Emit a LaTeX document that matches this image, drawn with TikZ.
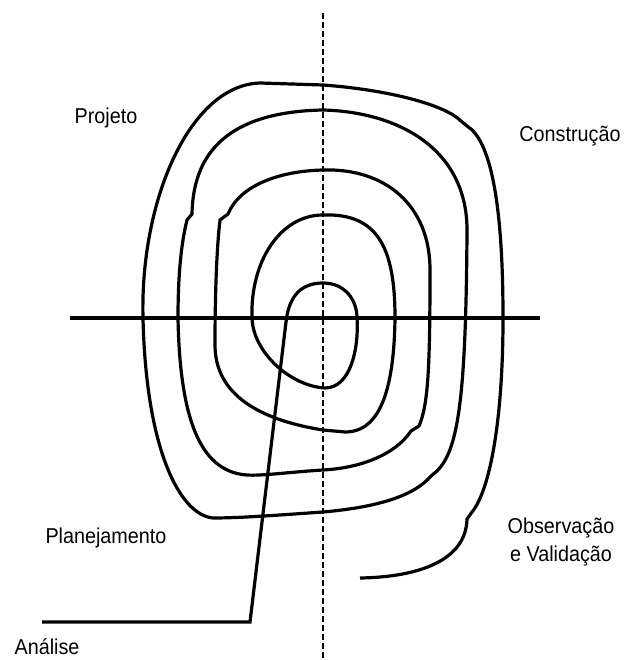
\documentclass[tikz,border=0pt]{standalone}
\usepackage{fontspec}
\setmainfont{Liberation Sans}[FakeStretch=0.92]
\begin{document}
\begin{tikzpicture}[x=1pt,y=-1pt,
  spiral/.style={line width=3.2pt},
  axisline/.style={line width=3.2pt},
  midline/.style={line width=1.7pt, dash pattern=on 6pt off 3pt},
  lbl/.style={anchor=base, inner sep=0pt, font=\fontsize{21.5}{26}\selectfont}]
\useasboundingbox (0,0) rectangle (624,660);
% axes
\coordinate (vtop) at (323,13);
\coordinate (vbot) at (323,660);
\coordinate (hl) at (70,318);
\coordinate (hr) at (540,318);
\draw[midline] (vtop) -- (vbot);
\draw[axisline] (hl) -- (hr);
% spiral
\draw[spiral] (42,622) -- (250,622) -- (286,322)
 .. controls (289,295) and (302,283) .. (323,283)
 .. controls (345,283) and (357,300) .. (357,318)
 .. controls (359,350) and (350,388) .. (325,388)
 .. controls (290,386) and (253,352) .. (252,318)
 .. controls (250,262) and (280,215) .. (323,215)
 .. controls (378,213) and (395,248) .. (395,318)
 .. controls (394,390) and (380,432) .. (345,432)
 -- (323,430)
 .. controls (260,420) and (215,395) .. (215,345)
 .. controls (215,290) and (217,245) .. (220,220)
 -- (228,214)
 .. controls (240,185) and (280,171) .. (323,170)
 .. controls (385,168) and (430,205) .. (430,270)
 .. controls (430,370) and (428,405) .. (419,426)
 -- (411,431)
 .. controls (395,455) and (360,468) .. (323,470)
 .. controls (290,472) and (262,476) .. (247,475)
 .. controls (205,472) and (180,430) .. (178,318)
 .. controls (178,270) and (182,240) .. (187,220)
 -- (192,214)
 .. controls (193,160) and (220,112) .. (323,110)
 .. controls (400,112) and (467,150) .. (467,230)
 .. controls (466,400) and (458,450) .. (437,471)
 -- (431,476)
 .. controls (415,495) and (380,507) .. (323,512)
 .. controls (280,515) and (240,518) .. (213,518)
 .. controls (180,515) and (146,450) .. (143,318)
 .. controls (140,200) and (190,85) .. (260,83)
 -- (323,85)
 .. controls (390,90) and (445,105) .. (461,121)
 -- (467,126)
 .. controls (490,140) and (503,200) .. (503,318)
 .. controls (503,420) and (490,490) .. (472,512)
 -- (467,519)
 .. controls (466,560) and (420,577) .. (360,578);
% labels
\node[lbl] (projeto) at (106,124) {Projeto};
\node[lbl] (construcao) at (570,142) {Construção};
\node[lbl] (planejamento) at (106,543) {Planejamento};
\node[lbl] (observacao) at (561,533) {Observação};
\node[lbl] (validacao) at (561,561) {e Validação};
\node[lbl] (analise) at (47,654) {Análise};
\end{tikzpicture}
\end{document}
